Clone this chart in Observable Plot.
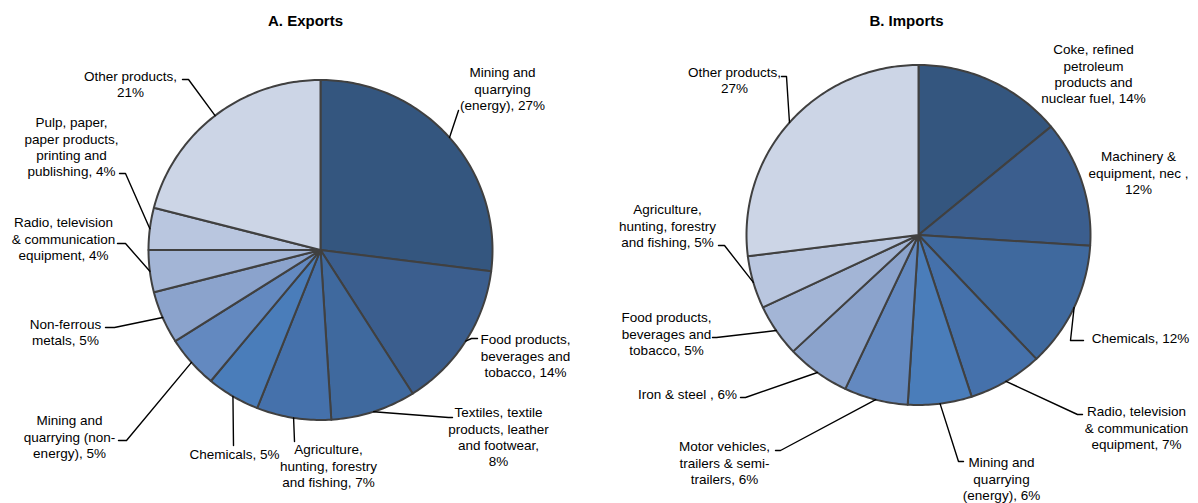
<!DOCTYPE html>
<html>
<head>
<meta charset="utf-8">
<script src="https://cdn.jsdelivr.net/npm/d3@7"></script>
<script src="https://cdn.jsdelivr.net/npm/@observablehq/plot@0.6"></script>
<style>
  html, body { margin: 0; padding: 0; background: #fff; }
  #chart svg { display: block; }
</style>
</head>
<body>
<div id="chart"></div>
<script>
// ---------------- DATA ----------------
const exportCategories = [
  "Mining and quarrying (energy)",
  "Food products, beverages and tobacco",
  "Textiles, textile products, leather and footwear",
  "Agriculture, hunting, forestry and fishing",
  "Chemicals",
  "Mining and quarrying (non-energy)",
  "Non-ferrous metals",
  "Radio, television & communication equipment",
  "Pulp, paper, paper products, printing and publishing",
  "Other products"
];
const exportShares = [27, 14, 8, 7, 5, 5, 5, 4, 4, 21];
const exportLabels = [
  "Mining and\nquarrying\n(energy), 27%",
  "Food products,\nbeverages and\ntobacco, 14%",
  "Textiles, textile\nproducts, leather\nand footwear,\n8%",
  "Agriculture,\nhunting, forestry\nand fishing, 7%",
  "Chemicals, 5%",
  "Mining and\nquarrying (non-\nenergy), 5%",
  "Non-ferrous\nmetals, 5%",
  "Radio, television\n& communication\nequipment, 4%",
  "Pulp, paper,\npaper products,\nprinting and\npublishing, 4%",
  "Other products,\n21%"
];

const importCategories = [
  "Coke, refined petroleum products and nuclear fuel",
  "Machinery & equipment, nec",
  "Chemicals",
  "Radio, television & communication equipment",
  "Mining and quarrying (energy)",
  "Motor vehicles, trailers & semi-trailers",
  "Iron & steel",
  "Food products, beverages and tobacco",
  "Agriculture, hunting, forestry and fishing",
  "Other products"
];
const importShares = [14, 12, 12, 7, 6, 6, 6, 5, 5, 27];
const importLabels = [
  "Coke, refined\npetroleum\nproducts and\nnuclear fuel, 14%",
  "Machinery &\nequipment, nec ,\n12%",
  "Chemicals, 12%",
  "Radio, television\n& communication\nequipment, 7%",
  "Mining and\nquarrying\n(energy), 6%",
  "Motor vehicles,\ntrailers & semi-\ntrailers, 6%",
  "Iron & steel , 6%",
  "Food products,\nbeverages and\ntobacco, 5%",
  "Agriculture,\nhunting, forestry\nand fishing, 5%",
  "Other products,\n27%"
];

const sliceColors = ["#34567F", "#3B5E8E", "#3F699E", "#4571AB", "#4A7DBA",
                     "#6389C0", "#8BA3CC", "#A3B5D6", "#B9C6DF", "#CCD5E6"];

const titles = ["A. Exports", "B. Imports"];

// ---------------- LAYOUT ----------------
const W = 1198, H = 503;
const pies = [
  {name: "exp", cats: exportCategories, vals: exportShares, labels: exportLabels,
   cx: 320, cy: 249.5, rx: 172, ry: 170, title: titles[0], tx: 305, ty: 21},
  {name: "imp", cats: importCategories, vals: importShares, labels: importLabels,
   cx: 918, cy: 234.5, rx: 172, ry: 170, title: titles[1], tx: 906, ty: 21}
];
// label block centre, anchor and leader elbow/end points (null = no leader)
const labelLayout = {
  exp: [
    {lx: 502, ly: 88,  a: "middle", pts: [[458, 110]]},
    {lx: 525, ly: 355, a: "middle", pts: [[471, 338], [477, 338]]},
    {lx: 498, ly: 436, a: "middle", pts: [[448, 417], [452, 417]]},
    {lx: 328, ly: 465, a: "middle", pts: [[294, 441]]},
    {lx: 234, ly: 453, a: "middle", pts: [[233, 445]]},
    {lx: 69,  ly: 436, a: "middle", pts: [[126, 440], [118, 440]]},
    {lx: 65,  ly: 331, a: "middle", pts: [[114, 327], [105, 327]]},
    {lx: 63,  ly: 238, a: "middle", pts: [[125, 243], [117, 243]]},
    {lx: 71,  ly: 146, a: "middle", pts: [[125, 173], [119, 173]]},
    {lx: 130, ly: 83,  a: "middle", pts: [[188, 79], [182, 79]]}
  ],
  imp: [
    {lx: 1093, ly: 73,  a: "middle", pts: null},
    {lx: 1138, ly: 172, a: "middle", pts: null},
    {lx: 1140, ly: 337, a: "middle", pts: [[1070, 340], [1083, 340]]},
    {lx: 1136, ly: 427, a: "middle", pts: [[1077, 414], [1082, 414]]},
    {lx: 1001, ly: 478, a: "middle", pts: [[958, 461], [963, 461]]},
    {lx: 724,  ly: 462, a: "middle", pts: [[780, 450], [775, 450]]},
    {lx: 687,  ly: 393, a: "middle", pts: [[745, 397], [740, 397]]},
    {lx: 666,  ly: 333, a: "middle", pts: [[716, 337], [712, 337]]},
    {lx: 667,  ly: 225, a: "middle", pts: [[724, 245], [718, 245]]},
    {lx: 734,  ly: 79,  a: "middle", pts: [[786, 76], [781, 76]]}
  ]
};

// ---------------- BUILD GEOMETRY FROM DATA ----------------
const slicePts = [], leaderPts = [], labelRows = [], titleRows = [];
for (const p of pies) {
  const arcs = d3.pie().sort(null).value(d => d)(p.vals);
  const px = a => p.cx + p.rx * Math.sin(a);
  const py = a => p.cy - p.ry * Math.cos(a);
  arcs.forEach((arc, i) => {
    const key = p.name + i;
    const color = sliceColors[i];
    slicePts.push({key, x: p.cx, y: p.cy, color});
    const n = Math.max(2, Math.ceil((arc.endAngle - arc.startAngle) / (Math.PI / 180)));
    for (let k = 0; k <= n; k++) {
      const a = arc.startAngle + (arc.endAngle - arc.startAngle) * k / n;
      slicePts.push({key, x: px(a), y: py(a), color});
    }
    const lay = labelLayout[p.name][i];
    labelRows.push({x: lay.lx, y: lay.ly, text: p.labels[i], anchor: lay.a, cat: p.cats[i]});
    if (lay.pts) {
      const mid = (arc.startAngle + arc.endAngle) / 2;
      leaderPts.push({key, x: px(mid), y: py(mid)});
      for (const [x, y] of lay.pts) leaderPts.push({key, x, y});
    }
  });
  titleRows.push({x: p.tx, y: p.ty, text: p.title});
}

const chart = Plot.plot({
  width: W,
  height: H,
  margin: 0,
  x: {domain: [0, W], range: [0, W], axis: null},
  y: {domain: [0, H], range: [0, H], axis: null},
  color: {type: "identity"},
  style: {fontFamily: "'Liberation Sans', Arial, sans-serif", background: "#fff"},
  marks: [
    Plot.line(slicePts, {x: "x", y: "y", z: "key", fill: "color", stroke: "#404040",
      strokeWidth: 2, strokeLinejoin: "round", curve: "linear-closed"}),
    Plot.line(leaderPts, {x: "x", y: "y", z: "key", stroke: "#000", strokeWidth: 1.4}),
    Plot.text(labelRows, {x: "x", y: "y", text: "text", textAnchor: "middle",
      lineAnchor: "middle", fontSize: 13.5, lineHeight: 1.22, fill: "#000"}),
    Plot.text(titleRows, {x: "x", y: "y", text: "text", fontSize: 15, fontWeight: "bold", fill: "#000"})
  ]
});
document.getElementById("chart").appendChild(chart);
</script>
</body>
</html>
